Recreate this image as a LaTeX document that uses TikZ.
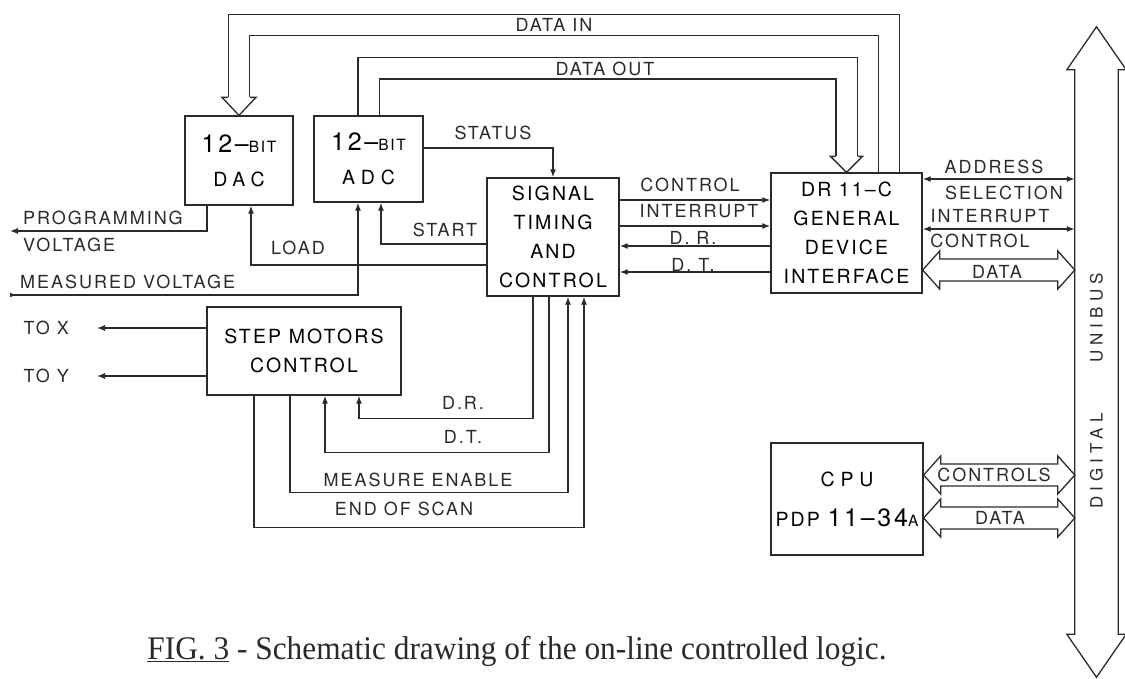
\documentclass[tikz,border=0pt]{standalone}
\usepackage{fontspec}
\usetikzlibrary{arrows.meta,positioning,calc,backgrounds}
\newfontfamily\heros[LetterSpace=11]{TeX Gyre Heros}
\newfontfamily\herowide[LetterSpace=30]{TeX Gyre Heros}
\newfontfamily\capfont[FakeStretch=0.95]{Liberation Serif}
\newcommand{\lbl}{\heros\fontsize{18}{27}\selectfont}
\newcommand{\boxfont}{\heros\fontsize{19.5}{29}\selectfont}
\newcommand{\numfont}{\fontsize{25}{29}\selectfont}
\newcommand{\bitfont}{\fontsize{15.5}{29}\selectfont}
\definecolor{ink}{HTML}{2A2A2A}
\tikzset{
  wire/.style={line width=1.3pt, draw=ink},
  block/.style={
    rectangle,
    wire,
    align=center,
    inner sep=0pt,
    font=\boxfont
  },
  lbl/.style={inner sep=0pt, font=\lbl, text=ink},
  arrow/.style={wire, -{Latex[length=8pt,width=6pt]}},
  biarrow/.style={wire, {Latex[length=8pt,width=6pt]}-{Latex[length=8pt,width=6pt]}},
  band/.style={wire, double=white, double distance=20pt, line join=miter}
}
\newcommand{\fatlink}[2]{%
  \draw[wire, line join=miter] (#1) -- ++(17,-19) -- ++(0,8) -- ($(#2)+(-17,-11)$)
    -- ++(0,-8) -- (#2) -- ++(-17,19) -- ++(0,-8) -- ($(#1)+(17,11)$) -- ++(0,8) -- cycle;}

\begin{document}
\begin{tikzpicture}[x=1pt,y=-1pt]
  \useasboundingbox (0,0) rectangle (1125,678);

  \node[block, minimum width=108pt, minimum height=89pt] (dac) at (239,160.5)
    {{\numfont 12–}{\bitfont BIT}\\[5pt]{\herowide DAC}};
  \node[block, minimum width=109pt, minimum height=86pt] (adc) at (368.5,159)
    {{\numfont 12–}{\bitfont BIT}\\[5pt]{\herowide ADC}};
  \node[block, minimum width=132pt, minimum height=118pt] (sig) at (553,237)
    {SIGNAL\\TIMING\\AND\\CONTROL};
  \node[block, minimum width=151pt, minimum height=120pt] (dr) at (846.5,233)
    {DR 11–C\\GENERAL\\DEVICE\\INTERFACE};
  \node[block, minimum width=194pt, minimum height=88pt] (step) at (304,351)
    {STEP MOTORS\\CONTROL};
  \node[block, minimum width=152pt, minimum height=112pt] (cpu) at (847,499)
    {{\herowide CPU}\\[11pt]PDP {\numfont 11–34}{\bitfont A}};
  \node[inner sep=0pt, minimum width=43pt, minimum height=564pt] (bus) at (1096.5,352) {};

  \coordinate (pv) at (10,231);
  \coordinate (mv) at (10,295);
  \coordinate (tx) at (97,328);
  \coordinate (ty) at (97,376);
  \coordinate (d1) at ([yshift=-37pt]dr.east);
  \coordinate (c1) at ([yshift=24pt]cpu.east);
  \coordinate (c2) at ([yshift=-19pt]cpu.east);

  \begin{scope}[on background layer]
    \draw[band] ([xshift=42.5pt]dr.north) -- ++(0,-147.5) -| ([yshift=18pt]dac.north);
    \draw[band] (adc.north) -- ++(0,-47) -| ([yshift=16pt]dr.north);
  \end{scope}
  \draw[wire] ([shift={(-11,-18)}]dac.north) -- ([shift={(-17,-18)}]dac.north) -- (dac.north)
    -- ([shift={(17,-18)}]dac.north) -- ([shift={(11,-18)}]dac.north);
  \draw[wire] ([shift={(-11,-16)}]dr.north) -- ([shift={(-16,-16)}]dr.north) -- (dr.north)
    -- ([shift={(16,-16)}]dr.north) -- ([shift={(11,-16)}]dr.north);

  \draw[wire] (bus.north west) -- ([xshift=-8pt]bus.north west) -- ([yshift=43pt]bus.north)
    -- ([xshift=8pt]bus.north east) -- (bus.north east) -- (bus.south east)
    -- ([xshift=8pt]bus.south east) -- ([yshift=-43pt]bus.south)
    -- ([xshift=-8pt]bus.south west) -- (bus.south west) -- cycle;

  \draw[arrow] ([yshift=11pt]adc.east) -| (sig.north);
  \draw[arrow] ([yshift=-7pt]sig.west) -| ([xshift=12.5pt]adc.south);
  \draw[arrow] ([yshift=-28pt]sig.west) -| ([xshift=12pt]dac.south);
  \draw[wire, {Latex[reversed,length=6pt,width=5pt]}-{Latex[length=8pt,width=6pt]}]
    (mv) -| ([xshift=-10.5pt]adc.south);
  \draw[arrow] ([xshift=-32pt]dac.south) |- (pv);

  \draw[arrow] ([yshift=37pt]sig.east) -- ([yshift=37pt]sig.east -| dr.west);
  \draw[arrow] ([yshift=11pt]sig.east) -- ([yshift=11pt]sig.east -| dr.west);
  \draw[arrow] ([yshift=-13pt]dr.west) -- ([yshift=-13pt]dr.west -| sig.east);
  \draw[arrow] ([yshift=-39pt]dr.west) -- ([yshift=-39pt]dr.west -| sig.east);

  \draw[biarrow] ([yshift=54pt]dr.east) -- ([yshift=54pt]dr.east -| bus.west);
  \draw[biarrow] ([yshift=4pt]dr.east) -- ([yshift=4pt]dr.east -| bus.west);
  \fatlink{d1}{d1 -| bus.west}
  \fatlink{c1}{c1 -| bus.west}
  \fatlink{c2}{c2 -| bus.west}

  \draw[arrow] (step.west |- tx) -- (tx);
  \draw[arrow] (step.west |- ty) -- (ty);
  \draw[arrow] ([xshift=-20pt]sig.south) -- ++(0,122) -| ([xshift=55pt]step.south);
  \draw[arrow] ([xshift=-4pt]sig.south) -- ++(0,156) -| ([xshift=21pt]step.south);
  \draw[arrow] ([xshift=-14pt]step.south) -- ++(0,97) -| ([xshift=15pt]sig.south);
  \draw[arrow] ([xshift=-50pt]step.south) -- ++(0,132) -| ([xshift=31pt]sig.south);

  \node[lbl] (din) at (554,25) {DATA IN};
  \node[lbl] (dout) at (605,69) {DATA OUT};
  \node[lbl] (st) at (493,133) {STATUS};
  \node[lbl] (stt) at (445,230) {START};
  \node[lbl] (ld) at (298,248) {LOAD};
  \node[lbl, anchor=west] (pg) at (23,218) {PROGRAMMING};
  \node[lbl, anchor=west] (pg2) at (23,245) {VOLTAGE};
  \node[lbl, anchor=west] (ms) at (20,282) {MEASURED VOLTAGE};
  \node[lbl] (ctl) at (690,185) {CONTROL};
  \node[lbl] (irq) at (699,211) {INTERRUPT};
  \node[lbl] (drl) at (693,238) {D. R.};
  \node[lbl] (dtl) at (693,265) {D. T.};
  \node[lbl] (adr) at (994,167) {ADDRESS};
  \node[lbl] (sel) at (1004,193) {SELECTION};
  \node[lbl] (irq2) at (990,216) {INTERRUPT};
  \node[lbl] (ctl2) at (980,241) {CONTROL};
  \node[lbl] (dat) at (997,272) {DATA};
  \node[lbl] (cts) at (994,475) {CONTROLS};
  \node[lbl] (dat2) at (1000,518) {DATA};
  \node[lbl, left=28pt of tx] (tol) {TO X};
  \node[lbl, left=28pt of ty] (toy) {TO Y};
  \node[lbl] (drs) at (463,403) {D.R.};
  \node[lbl] (dts) at (463,437) {D.T.};
  \node[lbl] (me) at (418,480) {MEASURE ENABLE};
  \node[lbl] (eos) at (404,509) {END OF SCAN};
  \node[lbl, font=\herowide\fontsize{17}{20}\selectfont, rotate=90] (ub) at (1096.5,318) {UNIBUS};
  \node[lbl, font=\herowide\fontsize{17}{20}\selectfont, rotate=90] (dg) at (1096.5,461) {DIGITAL};

  \node[inner sep=0pt, text=ink, font=\capfont\fontsize{33}{38}\selectfont] (cap) at (517,651)
    {\underline{FIG. 3} - Schematic drawing of the on-line controlled logic.};
\end{tikzpicture}
\end{document}
